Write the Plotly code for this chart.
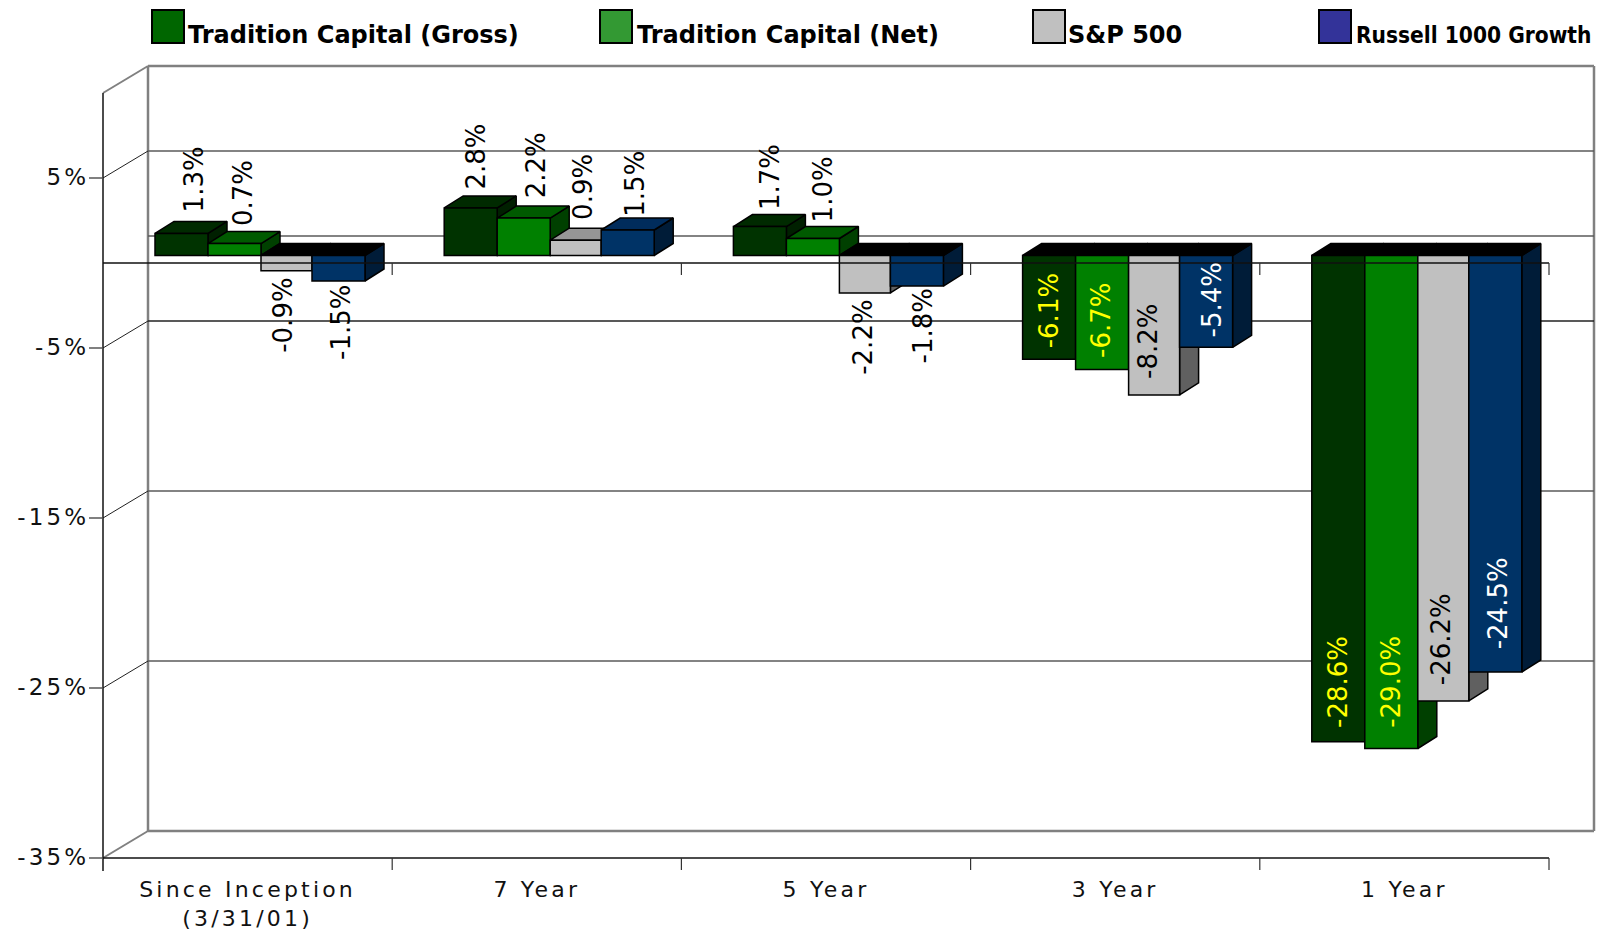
import plotly.graph_objects as go

# Annualised returns by horizon and manager/benchmark
periods = ["Since Inception<br>(3/31/01)", "7 Year", "5 Year", "3 Year", "1 Year"]
gross = [1.3, 2.8, 1.7, -6.1, -28.6]
net = [0.7, 2.2, 1.0, -6.7, -29.0]
sp500 = [-0.9, 0.9, -2.2, -8.2, -26.2]
russell = [-1.5, 1.5, -1.8, -5.4, -24.5]
series_names = ["Tradition Capital (Gross)", "Tradition Capital (Net)", "S&P 500", "Russell 1000 Growth"]
y_ticks = [5, -5, -15, -25, -35]
y_tick_text = ["5%", "-5%", "-15%", "-25%", "-35%"]

# Pixel geometry of the plot area
W, H = 1600, 932
LEFT, RIGHT, TOP, BOTTOM = 103, 1593, 66, 858
GROUP_PX = 289.2
PCT_PX = 17.0
X_MAX = (RIGHT - LEFT) / GROUP_PX
Y_MIN = -35
Y_MAX = Y_MIN + (BOTTOM - TOP) / PCT_PX


def ux(px):
    return px / GROUP_PX


def uy(px):
    return px / PCT_PX


def paper_x(x):
    return x / X_MAX


def paper_y(y):
    return (y - Y_MIN) / (Y_MAX - Y_MIN)


def px_x(px):
    return (px - LEFT) / (RIGHT - LEFT)


def px_y(px):
    return (BOTTOM - px) / (BOTTOM - TOP)


# Oblique projection: back wall offset, bar plane offset and bar depth
WALL_DX, WALL_DY = ux(45), uy(27)
BAR_BASE = uy(7.5)
DEPTH_DX, DEPTH_DY = ux(19), uy(12)
GROUP_PAD = 52
BAR_STARTS = [0, 53, 106, 157]
BAR_WIDTHS = [53, 53, 51, 53]

FRONT = ["#003300", "#008000", "#C0C0C0", "#003366"]
TOP_FACE = ["#002A00", "#005A00", "#969696", "#002C5C"]
SIDE = ["#002000", "#004000", "#606060", "#001C38"]
SWATCH = ["#006600", "#339933", "#C0C0C0", "#333399"]
INSIDE_COLOR = ["#FFFF00", "#FFFF00", "#000000", "#FFFFFF"]

# Label nudges in pixels from the end of each bar
LABEL_DX = [
    [12.5, 5, 10, 0, -1],
    [8.5, 12, 10.5, -1, -1],
    [-3.5, 7, -2, -6, -2],
    [2.5, 7, 6.5, 6, 3],
]
LABEL_DY = [
    [-54, -51, -49.5, -48, -60],
    [-50.5, -52.5, -49.5, -48.5, -67],
    [45, -53, 44, -53, -62],
    [42, -46, 40, -47, -69],
]

all_values = [gross, net, sp500, russell]

fig = go.Figure()
annotations = []

for s, values in enumerate(all_values):
    left = [g + ux(GROUP_PAD + BAR_STARTS[s]) for g in range(len(values))]
    right = [x + ux(BAR_WIDTHS[s]) for x in left]
    ends = [BAR_BASE + v for v in values]
    z = 2 * s

    # Side faces run from the bar plane back by the depth offset
    sx, sy = [], []
    for x1, e in zip(right, ends):
        sx += [x1, x1 + DEPTH_DX, x1 + DEPTH_DX, x1, x1, None]
        sy += [e, e + DEPTH_DY, BAR_BASE + DEPTH_DY, BAR_BASE, e, None]
    fig.add_trace(go.Scatter(x=sx, y=sy, mode="lines", fill="toself", fillcolor=SIDE[s],
                             line=dict(color="#000000", width=1.5), hoverinfo="skip",
                             showlegend=False, zorder=z))

    # Top faces: shaded over positive bars, black over negative ones
    for positive in (True, False):
        tx, ty = [], []
        for x0, x1, v, e in zip(left, right, values, ends):
            if (v >= 0) != positive:
                continue
            level = max(e, BAR_BASE)
            tx += [x0, x0 + DEPTH_DX, x1 + DEPTH_DX, x1, x0, None]
            ty += [level, level + DEPTH_DY, level + DEPTH_DY, level, level, None]
        if tx:
            fig.add_trace(go.Scatter(x=tx, y=ty, mode="lines", fill="toself",
                                     fillcolor=TOP_FACE[s] if positive else "#000000",
                                     line=dict(color="#000000", width=1.5), hoverinfo="skip",
                                     showlegend=False, zorder=z))

    # Front faces
    fig.add_trace(go.Bar(x=[x + ux(BAR_WIDTHS[s]) / 2 for x in left], y=values, base=BAR_BASE,
                         width=ux(BAR_WIDTHS[s]), marker=dict(color=FRONT[s],
                         line=dict(color="#000000", width=1.5)), name=series_names[s],
                         showlegend=False, zorder=z + 1))

    for g, v in enumerate(values):
        inside = v < -5
        annotations.append(dict(
            x=left[g] + ux(BAR_WIDTHS[s]) / 2, y=ends[g], xref="x", yref="y",
            xshift=LABEL_DX[s][g], yshift=-LABEL_DY[s][g],
            text=f"{v:.1f}%", textangle=-90, showarrow=False,
            xanchor="center", yanchor="middle",
            font=dict(family="DejaVu Sans", size=26,
                      color=INSIDE_COLOR[s] if inside else "#000000"),
        ))

# Frame of the oblique box, in plot-paper coordinates
shapes = []


def seg(x0, y0, x1, y1, color, width, layer="below"):
    shapes.append(dict(type="line", xref="paper", yref="paper", x0=paper_x(x0), y0=paper_y(y0),
                       x1=paper_x(x1), y1=paper_y(y1), layer=layer,
                       line=dict(color=color, width=width)))


GRAY = "#808080"
DARK = "#5A5A5A"
Y_TOP = 10
n = len(periods)
back_x0, back_x1 = WALL_DX, n + WALL_DX

# Back wall outline
seg(back_x0, Y_MIN + WALL_DY, back_x0, Y_TOP + WALL_DY, GRAY, 2.5)
seg(back_x1, Y_MIN + WALL_DY, back_x1, Y_TOP + WALL_DY, GRAY, 2.5)
seg(back_x0, Y_TOP + WALL_DY, back_x1, Y_TOP + WALL_DY, GRAY, 2.5)
seg(back_x0, Y_MIN + WALL_DY, back_x1, Y_MIN + WALL_DY, GRAY, 2.5)
seg(0, Y_TOP, back_x0, Y_TOP + WALL_DY, GRAY, 2)
seg(0, Y_MIN, back_x0, Y_MIN + WALL_DY, GRAY, 2)

# Gridlines on the back wall and the receding lines on the side wall
for t, color in zip(y_ticks[:-1], [DARK, "#222222", DARK, DARK]):
    seg(back_x0, t + WALL_DY, back_x1, t + WALL_DY, color, 1.5)
    seg(0, t, back_x0, t + WALL_DY, "#222222", 1)
seg(back_x0, WALL_DY, back_x1, WALL_DY, DARK, 1.5)

# Front axes
seg(0, Y_MIN - uy(13), 0, Y_TOP, "#111111", 1.5, "above")
seg(0, Y_MIN, n, Y_MIN, "#111111", 1.5, "above")
seg(0, 0, n, 0, "#111111", 1.5, "above")
for i in range(1, n + 1):
    seg(i, Y_MIN, i, Y_MIN - uy(12), "#333333", 1.2, "above")
    seg(i, 0, i, -uy(12), "#333333", 1.2, "above")

# Legend row
legend_swatch_x = [152, 600, 1033, 1319]
legend_text_x = [186, 635, 1066, 1354]
legend_sizes = [24, 24, 24, 22.5]
legend_fonts = ["DejaVu Sans", "DejaVu Sans", "DejaVu Sans", "DejaVu Sans Condensed"]
for name, color, sx, tx, size, face in zip(series_names, SWATCH, legend_swatch_x, legend_text_x,
                                           legend_sizes, legend_fonts):
    shapes.append(dict(type="rect", xref="paper", yref="paper", x0=px_x(sx), x1=px_x(sx + 32),
                       y0=px_y(43), y1=px_y(10), fillcolor=color, layer="above",
                       line=dict(color="#000000", width=2)))
    annotations.append(dict(x=px_x(tx), y=px_y(35), xref="paper", yref="paper", text=name,
                            showarrow=False, xanchor="left", yanchor="middle",
                            font=dict(family=face, size=size, color="#000000", weight="bold")))

fig.update_layout(
    width=W, height=H,
    margin=dict(l=LEFT, r=W - RIGHT, t=TOP, b=H - BOTTOM, pad=0, autoexpand=False),
    paper_bgcolor="#FFFFFF", plot_bgcolor="#FFFFFF",
    showlegend=False, barmode="overlay",
    xaxis=dict(range=[0, X_MAX], tickvals=[i + 0.5 for i in range(n)], ticktext=periods,
               automargin=False,
               showgrid=False, zeroline=False, showline=False, ticks="", ticklabelstandoff=16,
               tickfont=dict(family="DejaVu Sans", size=22, color="#111111")),
    yaxis=dict(range=[Y_MIN, Y_MAX], tickvals=y_ticks, ticktext=y_tick_text,
               automargin=False,
               showgrid=False, zeroline=False, showline=False,
               ticks="outside", ticklen=13, tickwidth=1.5, tickcolor=GRAY,
               ticklabelstandoff=-5, ticklabelshift=-1,
               tickfont=dict(family="DejaVu Sans", size=23, color="#111111")),
    shapes=shapes, annotations=annotations,
)

# Wider tracking on axis labels
post = ("var s=document.createElement('style');"
        "s.textContent='.xtick text{letter-spacing:3.2px}.ytick text{letter-spacing:3.2px}';"
        "document.head.appendChild(s);")
fig.write_html("out.html", post_script=post)
